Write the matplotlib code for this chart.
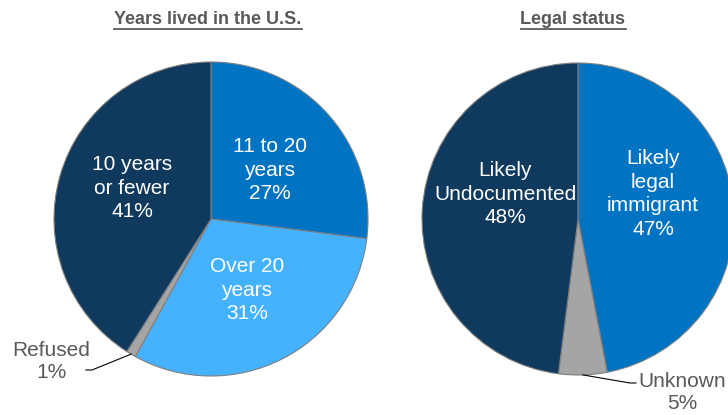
import numpy as np
import matplotlib
matplotlib.use("Agg")
import matplotlib.pyplot as plt
from matplotlib.lines import Line2D

plt.rcParams['font.family'] = ['Liberation Sans', 'DejaVu Sans']

# data
years_labels = ["11 to 20\nyears", "Over 20\nyears", "Refused", "10 years\nor fewer"]
years_values = [27, 31, 1, 41]
status_labels = ["Likely\nlegal\nimmigrant", "Unknown", "Likely\nUndocumented"]
status_values = [47, 5, 48]

navy = "#0F3A5E"
blue = "#0073C2"
light = "#45B2FF"
grey = "#A5A5A5"
title_col = "#595959"

W, H = 728, 415
fig = plt.figure(figsize=(W / 100, H / 100), dpi=100)
ax = fig.add_axes([0, 0, 1, 1])

def img_y(y):
    # image pixel row -> data y
    return H - y

left_c = (211, img_y(219))
right_c = (578, img_y(219))
wp = dict(edgecolor="#7F7F7F", linewidth=0.8)

w1, _ = ax.pie(years_values, colors=[blue, light, grey, navy], startangle=90,
               counterclock=False, center=left_c, radius=157, wedgeprops=wp)
w2, _ = ax.pie(status_values, colors=[blue, grey, navy], startangle=90,
               counterclock=False, center=right_c, radius=156, wedgeprops=wp)

ax.set_xlim(0, W)
ax.set_ylim(0, H)
ax.set_aspect("auto")
ax.axis("off")

# labels inside slices
inner = dict(color="white", fontsize=15, ha="center", va="center",
             multialignment="center", linespacing=1.33)
ax.text(270, img_y(170), years_labels[0] + "\n27%", **inner)
ax.text(247, img_y(290), years_labels[1] + "\n31%", **inner)
ax.text(132, img_y(188), years_labels[3] + "\n41%", **inner)
ax.text(505, img_y(194), status_labels[2] + "\n48%", **inner)
ax.text(653, img_y(194), status_labels[0] + "\n47%", **inner)

outer = dict(color=title_col, fontsize=15, ha="center", va="center",
             multialignment="center", linespacing=1.2)
ax.text(51, img_y(361), years_labels[2] + "\n1%", **outer)
ax.text(682, img_y(392), status_labels[1] + "\n5%", **outer)

def edge_point(wedge):
    mid = np.deg2rad((wedge.theta1 + wedge.theta2) / 2)
    cx, cy = wedge.center
    return cx + wedge.r * np.cos(mid), cy + wedge.r * np.sin(mid)

px, py = edge_point(w1[2])
ax.plot([px, 92, 86], [py, img_y(370), img_y(370)], color="black", lw=0.8)
px, py = edge_point(w2[1])
ax.plot([px, 630, 636], [py, img_y(383), img_y(383)], color="black", lw=0.8)

# underlined titles
titles = []
titles.append(ax.text(208, img_y(20), "Years lived in the U.S.", fontsize=13,
                      fontweight="bold", color=title_col, ha="center", va="center"))
titles.append(ax.text(573, img_y(20), "Legal status", fontsize=13,
                      fontweight="bold", color=title_col, ha="center", va="center"))
fig.canvas.draw()
for t in titles:
    bb = t.get_window_extent()
    yl = H - 29.5
    fig.add_artist(Line2D([bb.x0 / W, bb.x1 / W], [yl / H, yl / H],
                          transform=fig.transFigure, color=title_col, lw=1.3))

fig.savefig("out.png", dpi=100)
